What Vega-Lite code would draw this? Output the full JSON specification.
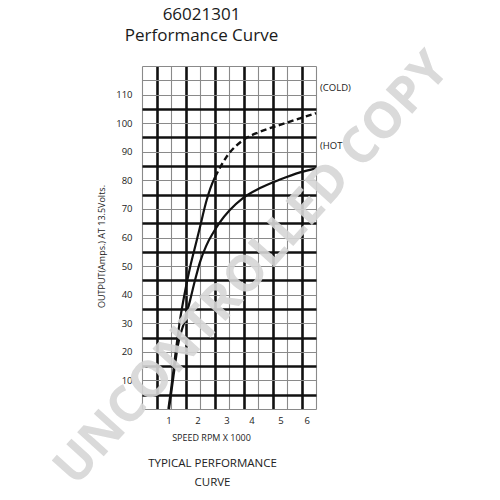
{
  "$schema": "https://vega.github.io/schema/vega-lite/v6.json",
  "autosize": {"type": "none"},
  "padding": {"left": 142, "top": 66, "right": 184, "bottom": 91},
  "width": 174,
  "height": 343,
  "background": "white",
  "config": {
    "view": {"stroke": null},
    "font": "Open Sans"
  },
  "datasets": {
    "curves": [
      {"curve": "COLD", "rpm": 0.91, "amps": 0},
      {"curve": "COLD", "rpm": 1.0, "amps": 6.6},
      {"curve": "COLD", "rpm": 1.14, "amps": 18.2},
      {"curve": "COLD", "rpm": 1.31, "amps": 31.1},
      {"curve": "COLD", "rpm": 1.48, "amps": 40.9},
      {"curve": "COLD", "rpm": 1.66, "amps": 49.7},
      {"curve": "COLD", "rpm": 1.89, "amps": 59.1},
      {"curve": "COLD", "rpm": 2.0, "amps": 63.7},
      {"curve": "COLD", "rpm": 2.23, "amps": 73.1},
      {"curve": "COLD", "rpm": 2.36, "amps": 77.3},
      {"curve": "COLD", "rpm": 2.52, "amps": 81.2},
      {"curve": "COLD", "rpm": 2.92, "amps": 88.3},
      {"curve": "COLD", "rpm": 3.49, "amps": 94.1},
      {"curve": "COLD", "rpm": 4.07, "amps": 97.0},
      {"curve": "COLD", "rpm": 4.76, "amps": 99.4},
      {"curve": "COLD", "rpm": 5.45, "amps": 101.7},
      {"curve": "COLD", "rpm": 6.0, "amps": 103.5},
      {"curve": "HOT", "rpm": 0.93, "amps": 0},
      {"curve": "HOT", "rpm": 1.09, "amps": 11.9},
      {"curve": "HOT", "rpm": 1.24, "amps": 22.4},
      {"curve": "HOT", "rpm": 1.48, "amps": 31.1},
      {"curve": "HOT", "rpm": 1.66, "amps": 38.1},
      {"curve": "HOT", "rpm": 1.83, "amps": 45.1},
      {"curve": "HOT", "rpm": 2.0, "amps": 51.4},
      {"curve": "HOT", "rpm": 2.21, "amps": 57.0},
      {"curve": "HOT", "rpm": 2.45, "amps": 61.6},
      {"curve": "HOT", "rpm": 2.69, "amps": 65.4},
      {"curve": "HOT", "rpm": 3.03, "amps": 69.6},
      {"curve": "HOT", "rpm": 3.48, "amps": 73.8},
      {"curve": "HOT", "rpm": 4.07, "amps": 77.3},
      {"curve": "HOT", "rpm": 4.76, "amps": 80.3},
      {"curve": "HOT", "rpm": 5.45, "amps": 82.8},
      {"curve": "HOT", "rpm": 6.0, "amps": 84.2}
    ],
    "labels": [
      {"label": "(COLD)", "rpm": 6.14, "amps": 112.3},
      {"label": "(HOT", "rpm": 6.14, "amps": 92.0}
    ],
    "watermark": [
      {"label": "UNCONTROLLED COPY", "rpm": 3.8, "amps": 49}
    ]
  },
  "resolve": {"axis": {"x": "independent", "y": "independent"}},
  "layer": [
    {
      "data": {"name": "curves"},
      "transform": [{"filter": "datum.curve == 'HOT'"}],
      "mark": {"type": "line", "color": "#111", "strokeWidth": 2.2, "interpolate": "monotone"},
      "encoding": {
        "x": {
          "field": "rpm", "type": "quantitative",
          "scale": {"domain": [0, 6], "nice": false, "zero": false},
          "axis": {
            "orient": "bottom",
            "values": [0, 1, 2, 3, 4, 5, 6],
            "format": "d",
            "domain": false,
            "ticks": false,
            "grid": true,
            "gridColor": "#8a8a8a",
            "gridWidth": 1.1,
            "gridOpacity": 1,
            "labelExpr": "datum.value >= 1 ? datum.label : ''",
            "labelOffset": {"condition": {"test": "datum.value >= 4", "value": -6.5}, "value": -2.5},
            "labelFont": "Open Sans",
            "labelFontSize": 9.5,
            "labelColor": "#222",
            "labelPadding": 6,
            "title": "SPEED RPM X 1000",
            "titleFont": "Open Sans",
            "titleFontSize": 9,
            "titleFontWeight": "normal",
            "titleColor": "#222",
            "titleX": 69,
            "titleY": 28,
            "titleAlign": "center",
            "titleBaseline": "middle"
          }
        },
        "y": {
          "field": "amps", "type": "quantitative",
          "scale": {"domain": [0, 120], "nice": false, "zero": false},
          "axis": {
            "orient": "left",
            "values": [0, 10, 20, 30, 40, 50, 60, 70, 80, 90, 100, 110, 115, 120],
            "domain": false,
            "ticks": false,
            "grid": true,
            "gridColor": "#8a8a8a",
            "gridWidth": 1.1,
            "gridOpacity": 1,
            "labelExpr": "datum.value >= 10 && datum.value <= 110 ? datum.label : ''",
            "labelFont": "Open Sans",
            "labelFontSize": 9.5,
            "labelColor": "#222",
            "labelPadding": 10,
            "title": "OUTPUT(Amps.) AT 13.5Volts.",
            "titleFont": "Open Sans",
            "titleFontSize": 9,
            "titleFontWeight": "normal",
            "titleColor": "#222",
            "titleX": -41,
            "titleY": 180,
            "titleAngle": -90,
            "titleAlign": "center",
            "titleBaseline": "middle"
          }
        }
      }
    },
    {
      "data": {"name": "curves"},
      "transform": [{"filter": "datum.curve == 'COLD' && datum.rpm <= 2.52"}],
      "mark": {"type": "line", "color": "#111", "strokeWidth": 2.2, "interpolate": "monotone"},
      "encoding": {
        "x": {
          "field": "rpm", "type": "quantitative",
          "axis": {
            "orient": "bottom",
            "values": [0.5, 1.5, 2.5, 3.5, 4.5, 5.5],
            "labels": false,
            "domain": false,
            "ticks": false,
            "title": null,
            "grid": true,
            "gridColor": "#111",
            "gridWidth": 2.6,
            "gridOpacity": 1
          }
        },
        "y": {
          "field": "amps", "type": "quantitative",
          "axis": {
            "orient": "left",
            "values": [5, 15, 25, 35, 45, 55, 65, 75, 85, 95, 105],
            "labels": false,
            "domain": false,
            "ticks": false,
            "title": null,
            "grid": true,
            "gridColor": "#111",
            "gridWidth": 2.6,
            "gridOpacity": 1
          }
        }
      }
    },
    {
      "data": {"name": "curves"},
      "transform": [{"filter": "datum.curve == 'COLD' && datum.rpm >= 2.52"}],
      "mark": {"type": "line", "color": "#111", "strokeWidth": 2.4, "strokeDash": [6, 3.5], "interpolate": "monotone"},
      "encoding": {
        "x": {"field": "rpm", "type": "quantitative", "axis": null},
        "y": {"field": "amps", "type": "quantitative", "axis": null}
      }
    },
    {
      "data": {"name": "labels"},
      "mark": {"type": "text", "align": "left", "baseline": "middle", "font": "Open Sans", "fontSize": 9.5, "color": "#222"},
      "encoding": {
        "x": {
          "field": "rpm", "type": "quantitative",
          "axis": {
            "orient": "top",
            "labels": false,
            "ticks": false,
            "domain": false,
            "grid": false,
            "title": ["66021301", "Performance Curve"],
            "titleFont": "Open Sans",
            "titleFontSize": 17,
            "titleFontWeight": "normal",
            "titleColor": "#1a1a1a",
            "titleLineHeight": 21,
            "titleX": 59,
            "titleY": -52,
            "titleAlign": "center",
            "titleBaseline": "middle"
          }
        },
        "y": {"field": "amps", "type": "quantitative", "axis": null},
        "text": {"field": "label"}
      }
    },
    {
      "data": {"name": "watermark"},
      "mark": {"type": "text", "align": "center", "baseline": "middle", "font": "Open Sans", "fontWeight": "bold", "fontSize": 50, "angle": -48, "color": "#d6d6d6", "opacity": 0.9},
      "encoding": {
        "x": {
          "field": "rpm", "type": "quantitative",
          "axis": {
            "orient": "bottom",
            "labels": false,
            "ticks": false,
            "domain": false,
            "grid": false,
            "title": ["TYPICAL PERFORMANCE", "CURVE"],
            "titleFont": "Open Sans",
            "titleFontSize": 11.5,
            "titleFontWeight": "normal",
            "titleColor": "#222",
            "titleLineHeight": 19,
            "titleX": 70,
            "titleY": 54,
            "titleAlign": "center",
            "titleBaseline": "middle"
          }
        },
        "y": {"field": "amps", "type": "quantitative", "axis": null},
        "text": {"field": "label"}
      }
    }
  ]
}
